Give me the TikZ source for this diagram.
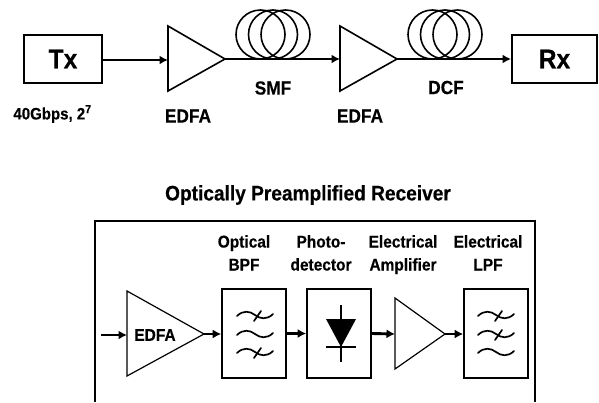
\documentclass[tikz,border=0pt]{standalone}
\usepackage{fontspec}
\setmainfont[FakeStretch=0.91,BoldFeatures={FakeBold=0.4}]{Liberation Sans}
\usetikzlibrary{arrows.meta}
\tikzset{
  x=1pt,y=-1pt,
  lab/.style={inner sep=0pt,font=\fontsize{19}{23}\selectfont\bfseries},
  lab2/.style={inner sep=0pt,font=\fontsize{17}{23}\selectfont\bfseries},
  stacked/.style={lab2,align=center,anchor=north},
  big/.style={inner sep=0pt,font=\fontsize{27}{30}\selectfont\bfseries},
  heading/.style={inner sep=0pt,font=\fontsize{21}{25}\selectfont\bfseries},
  blockbox/.style={draw,line width=1.6pt,inner sep=0pt},
  topbox/.style={blockbox,line width=1.9pt},
  outline/.style={draw,line width=1.6pt,line join=miter},
  coil/.style={draw,line width=1.6pt},
  link/.style={line width=2.9pt,-{Latex[length=8.5pt,width=9pt]}},
  wave/.style={line width=1.7pt,line cap=round},
}
\newcommand{\tilda}[2]{%
  \draw[wave] (#1-18,#2+1) .. controls (#1-12,#2-5) and (#1-5,#2-4) .. (#1,#2) .. controls (#1+5,#2+4) and (#1+12,#2+5) .. (#1+18,#2-1);}
\newcommand{\tildacross}[2]{%
  \tilda{#1}{#2}\draw[wave] (#1-1,#2+6) -- (#1+6,#2-4);}
\begin{document}
\begin{tikzpicture}
\useasboundingbox (0,0) rectangle (599,402);
% top line
\node[topbox,minimum width=78pt,minimum height=48pt,big] (tx) at (63,59) {Tx};
\node[topbox,minimum width=85pt,minimum height=48pt,big] (rx) at (554.5,59) {Rx};
\coordinate (a1l) at (168,60); \coordinate (a1t) at (168,26); \coordinate (a1b) at (168,91); \coordinate (a1o) at (225,59);
\coordinate (a2l) at (340,59); \coordinate (a2t) at (340,26); \coordinate (a2b) at (340,91); \coordinate (a2o) at (397,59);
\draw[outline] (a1t) -- (a1o) -- (a1b) -- cycle;
\draw[outline] (a2t) -- (a2o) -- (a2b) -- cycle;
\draw[link] (tx.east |- a1l) -- (a1l);
\draw[link] (a1o) -- (a2l);
\draw[link] (a2o) -- (rx.west |- a2o);
\foreach \c in {260.5,273,285.5,432.5,445,457.5}{\draw[coil] (\c,34.5) ellipse [x radius=24.5,y radius=24.5];}
\node[lab] (smf) at (273,88) {SMF};
\node[lab] (dcf) at (446,87.5) {DCF};
\node[lab] (e1) at (188,116) {EDFA};
\node[lab] (e2) at (360,116) {EDFA};
\node[inner sep=0pt,font=\fontsize{16.5}{18}\selectfont\bfseries] (rate) at (52.5,114) {40Gbps, 2\textsuperscript{7}};
% receiver
\node[heading] (title) at (308,195) {Optically Preamplified Receiver};
\draw[line width=1.8pt] (95,402) -- (95,221) -- (535,221) -- (535,402);
\coordinate (it) at (127,291); \coordinate (ib) at (127,376); \coordinate (io) at (204,334); \coordinate (il) at (127,335);
\coordinate (in) at (101,335);
\draw[outline,line width=1.2pt] (it) -- (io) -- (ib) -- cycle;
\node[lab2] (e3) at (155,335) {EDFA};
\node[blockbox,minimum width=64pt,minimum height=89pt] (bpf) at (254,333.5) {};
\node[blockbox,minimum width=64pt,minimum height=89pt] (pd) at (339,333.5) {};
\coordinate (at) at (395,298); \coordinate (ab) at (395,369); \coordinate (ao) at (445,334); \coordinate (al) at (395,334);
\draw[outline,line width=1.2pt] (at) -- (ao) -- (ab) -- cycle;
\node[blockbox,minimum width=64pt,minimum height=89pt] (lpf) at (496,333.5) {};
\draw[link] (in) -- (il);
\draw[link] (io) -- (bpf.west |- io);
\draw[link] (bpf.east) -- (pd.west);
\draw[link] (pd.east) -- (al);
\draw[link] (ao) -- (lpf.west |- ao);
\node[stacked] (l1) at (244,235) {Optical\\BPF};
\node[stacked] (l2) at (321,235) {Photo-\\detector};
\node[stacked] (l3) at (403,235) {Electrical\\Amplifier};
\node[stacked] (l4) at (488,235) {Electrical\\LPF};
% filter symbols
\tildacross{255}{315}\tilda{255}{334}\tildacross{255}{352}
\tildacross{496}{315}\tildacross{496}{334}\tilda{496}{352}
% diode
\fill (326,319) -- (356,319) -- (341,347) -- cycle;
\draw[line width=1.6pt] (341,305) -- (341,362);
\draw[line width=1.6pt] (326,347) -- (356,347);
\end{tikzpicture}
\end{document}
